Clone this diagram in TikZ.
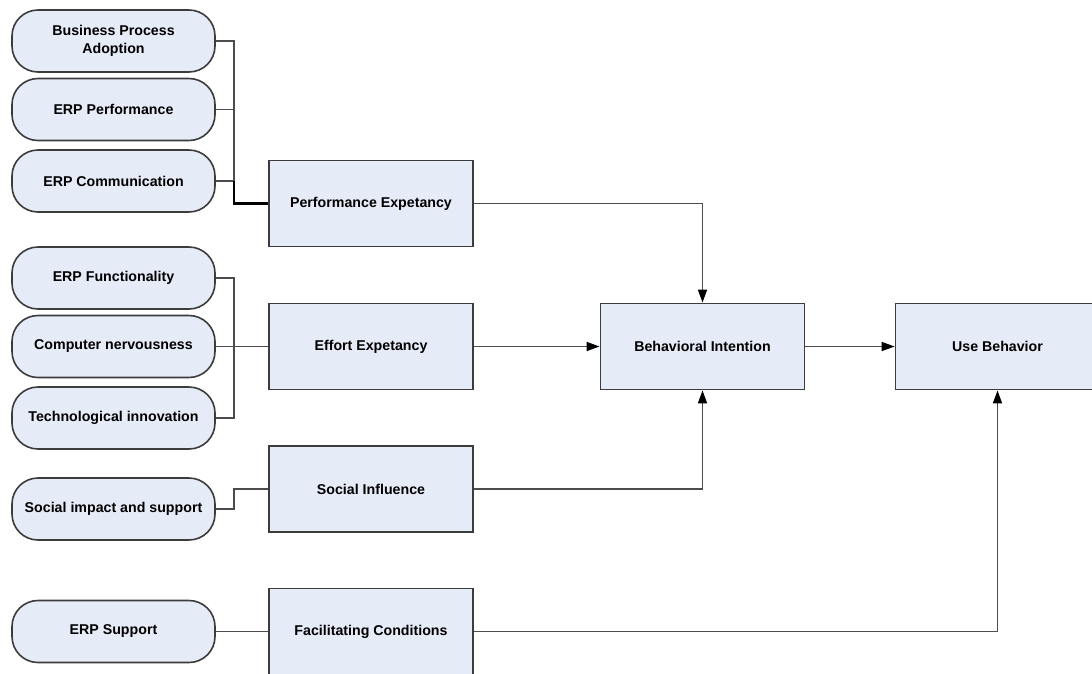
\documentclass[tikz,border=0pt]{standalone}
\usepackage{fontspec}
\setmainfont{Liberation Sans}
\usetikzlibrary{arrows.meta,positioning}

\definecolor{boxfill}{RGB}{230,236,247}
\definecolor{boxline}{RGB}{60,60,60}

\begin{document}
\begin{tikzpicture}[x=1pt, y=-1pt,
    source/.style={rectangle, rounded corners=26pt, draw=boxline, fill=boxfill, line width=1.6pt, minimum width=203pt, minimum height=62pt, align=center, font=\fontsize{14.2}{18.5}\selectfont\bfseries},
    construct/.style={rectangle, draw=boxline, fill=boxfill, line width=1.8pt, minimum width=204pt, minimum height=86pt, align=center, font=\fontsize{14.2}{18.5}\selectfont\bfseries},
    link/.style={draw=black!70, line width=1.6pt},
    arrow/.style={link, -{Triangle[length=13pt, width=9pt, color=black]}},
]
    \useasboundingbox (0,0) rectangle (1092,673);

    % determinants on the left
    \node[source] (bpa) at (113.5,41) {Business Process\\Adoption};
    \node[source] (perf) at (113.5,109.5) {ERP Performance};
    \node[source] (comm) at (113.5,181) {ERP Communication};
    \node[source] (func) at (113.5,278) {ERP Functionality};
    \node[source] (nerv) at (113.5,346.5) {Computer nervousness};
    \node[source] (innov) at (113.5,418) {Technological innovation};
    \node[source] (social) at (113.5,509) {Social impact and support};
    \node[source] (support) at (113.5,631.5) {ERP Support};

    % UTAUT constructs
    \node[construct] (pe) at (371,203.5) {Performance Expetancy};
    \node[construct] (ee) at (371,346.5) {Effort Expetancy};
    \node[construct] (si) at (371,489) {Social Influence};
    \node[construct] (fc) at (371,631.5) {Facilitating Conditions};
    \node[construct] (bi) at (702.5,346.5) {Behavioral Intention};
    \node[construct] (ub) at (997.5,346.5) {Use Behavior};

    % bus lines into the constructs
    \coordinate (bus1) at (234,181);
    \draw[link] (bpa.east) -| (bus1);
    \draw[link] (perf.east) -- (perf.east -| bus1);
    \draw[link] (comm.east) -- (bus1);
    \draw[link, draw=black, line width=2.4pt] (bus1) |- (pe.west);

    \draw[link] (func.east) -| (234,346.5);
    \draw[link] (innov.east) -| (234,346.5);
    \draw[link] (nerv.east) -- (ee.west);

    \draw[link] (social.east) -| (234,489) -- (si.west);
    \draw[link] (support.east) -- (fc.west);

    % paths towards intention and behaviour
    \draw[arrow] (pe.east) -| (bi.north);
    \draw[arrow] (ee.east) -- (bi.west);
    \draw[arrow] (si.east) -| (bi.south);
    \draw[arrow] (bi.east) -- (ub.west);
    \draw[arrow] (fc.east) -| (ub.south);
\end{tikzpicture}
\end{document}
